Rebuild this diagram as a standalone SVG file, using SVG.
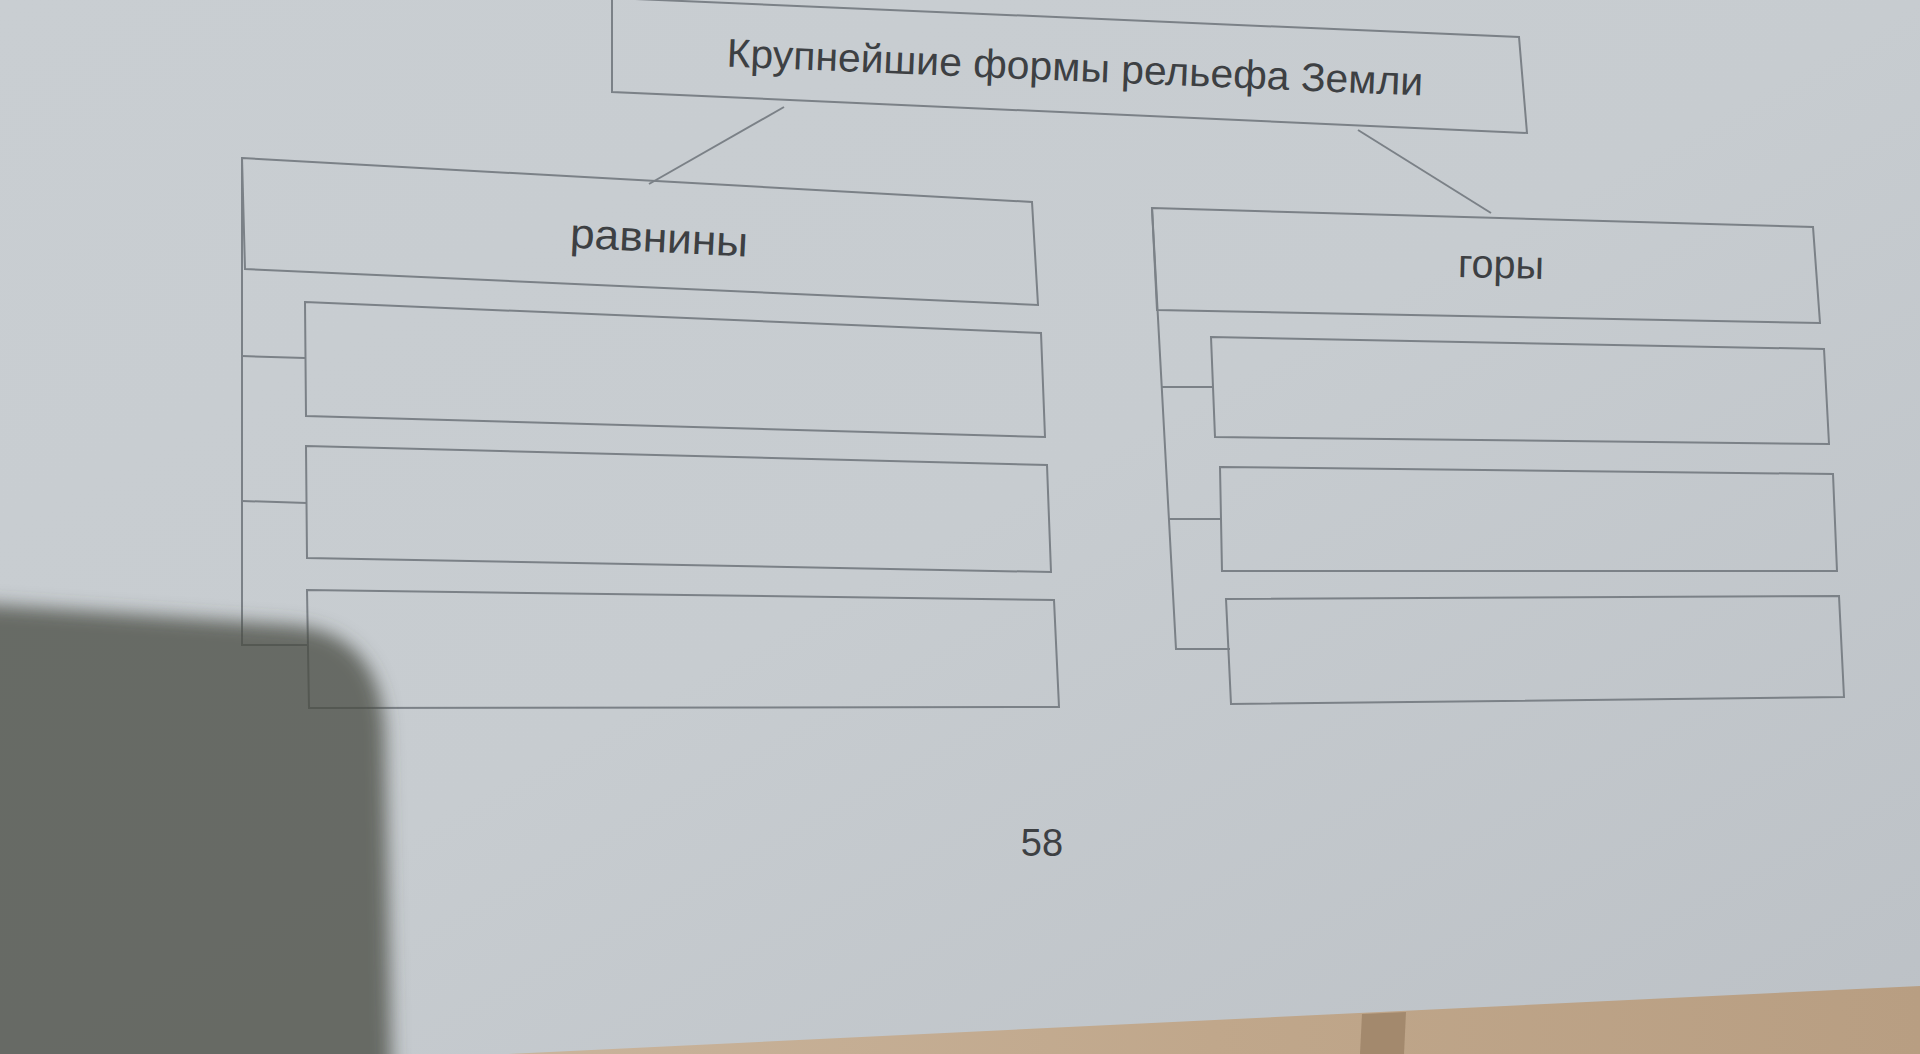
<svg xmlns="http://www.w3.org/2000/svg" width="1920" height="1054" viewBox="0 0 1920 1054">
  <defs>
    <style>
      .box { fill: none; stroke: #7b8187; stroke-width: 2; stroke-linejoin: miter; }
      .conn { fill: none; stroke: #7b8187; stroke-width: 2; }
      .lbl { font-family: "Liberation Sans", Arial, sans-serif; fill: #3d4043; text-anchor: middle; }
    </style>
    <linearGradient id="paper" x1="0" y1="0" x2="1" y2="1">
      <stop offset="0" stop-color="#c9ced2"/>
      <stop offset="0.5" stop-color="#c7ccd0"/>
      <stop offset="1" stop-color="#bcc1c6"/>
    </linearGradient>
    <linearGradient id="wood" x1="0" y1="0" x2="1" y2="0">
      <stop offset="0" stop-color="#c9b49c"/>
      <stop offset="0.5" stop-color="#c0a78b"/>
      <stop offset="1" stop-color="#b89e82"/>
    </linearGradient>
    <filter id="blur" x="-20%" y="-20%" width="140%" height="140%">
      <feGaussianBlur stdDeviation="9"/>
    </filter>
  </defs>

  <!-- paper background -->
  <rect x="0" y="0" width="1920" height="1054" fill="url(#paper)"/>
  <!-- wooden floor below paper edge -->
  <polygon points="508,1054 1920,986 1920,1054" fill="url(#wood)"/>
  <polygon points="1362,1014 1406,1012 1404,1054 1360,1054" fill="#9c8266" opacity="0.8"/>

  <!-- connectors -->
  <g id="connectors">
    <line class="conn" x1="784" y1="107" x2="649" y2="184"/>
    <line class="conn" x1="1358" y1="130" x2="1491" y2="213"/>
    <!-- plains bracket -->
    <polyline class="conn" points="242,158 242,645 308,645"/>
    <line class="conn" x1="242" y1="356" x2="305" y2="358"/>
    <line class="conn" x1="242" y1="501" x2="307" y2="503"/>
    <!-- mountains bracket -->
    <polyline class="conn" points="1152,208 1176,649 1230,649"/>
    <line class="conn" x1="1162" y1="387" x2="1213" y2="387"/>
    <line class="conn" x1="1169" y1="519" x2="1221" y2="519"/>
  </g>

  <!-- top node -->
  <g id="node-root">
    <polygon class="box" points="612,-2 1519,37 1527,133 612,92"/>
    <text class="lbl" font-size="40" textLength="697" lengthAdjust="spacingAndGlyphs" x="1075" y="81" transform="rotate(2.4 1075 67)">Крупнейшие формы рельефа Земли</text>
  </g>

  <!-- plains -->
  <g id="node-plains">
    <polygon class="box" points="242,158 1032,202 1038,305 245,269"/>
    <text class="lbl" font-size="42" textLength="178" lengthAdjust="spacingAndGlyphs" x="659" y="252" transform="rotate(2.9 659 241)">равнины</text>
  </g>
  <g id="node-plains-1">
    <polygon class="box" points="305,302 1041,333 1045,437 306,416"/>
  </g>
  <g id="node-plains-2">
    <polygon class="box" points="306,446 1047,465 1051,572 307,558"/>
  </g>
  <g id="node-plains-3">
    <polygon class="box" points="307,590 1054,600 1059,707 309,708"/>
  </g>

  <!-- mountains -->
  <g id="node-mountains">
    <polygon class="box" points="1152,208 1813,227 1820,323 1157,310"/>
    <text class="lbl" font-size="40" textLength="86" lengthAdjust="spacingAndGlyphs" x="1501" y="278" transform="rotate(1.4 1501 266)">горы</text>
  </g>
  <g id="node-mountains-1">
    <polygon class="box" points="1211,337 1824,349 1829,444 1215,437"/>
  </g>
  <g id="node-mountains-2">
    <polygon class="box" points="1220,467 1833,474 1837,571 1222,571"/>
  </g>
  <g id="node-mountains-3">
    <polygon class="box" points="1226,599 1839,596 1844,697 1231,704"/>
  </g>

  <!-- page number -->
  <text class="lbl" font-size="38" x="1042" y="856">58</text>

  <!-- hand shadow -->
  <path d="M-30,603 L 290,625 Q 382,632 385,735 L 392,1090 L -30,1090 Z" fill="#454a42" fill-opacity="0.75" filter="url(#blur)"/>
</svg>
